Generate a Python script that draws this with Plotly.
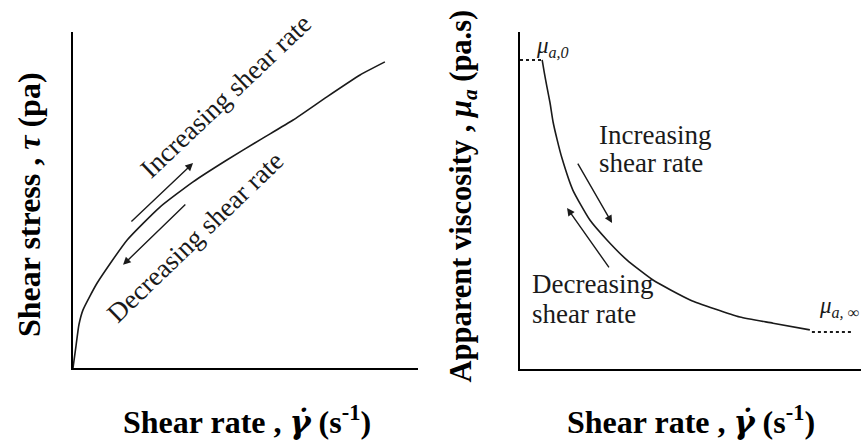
import plotly.graph_objects as go

# ---- data (arbitrary units) ----
# Left panel: shear stress vs shear rate
stress_rate = [0, 0.9, 1.7, 2.9, 7.0, 15.7, 25.2, 34.8, 44.6, 54.2, 63.8, 73.6, 83.2, 90.4]
stress_val = [0, 6.8, 12.8, 17.3, 25.3, 38.1, 47.9, 55.4, 61.9, 67.9, 73.8, 80.7, 87.2, 91.1]

# Right panel: apparent viscosity vs shear rate
visc_rate = [6.5, 7.1, 7.9, 8.8, 9.7, 10.9, 12.3, 15.5, 20.5, 25.5, 31.4, 39.0, 49.9, 64.5, 74.2, 85.0]
visc_val = [91.7, 88.1, 83.7, 79.0, 73.3, 68.0, 62.6, 53.1, 44.2, 38.3, 32.3, 26.4, 20.5, 15.4, 13.6, 11.6]

# plateau levels (dotted)
mu0_rate = [0, 6.5]
mu0_val = [91.7, 91.7]
muinf_rate = [85.6, 97.7]
muinf_val = [11.0, 11.0]

FONT = "Liberation Serif"
INK = "#1a1a1a"

fig = go.Figure()
fig.add_trace(go.Scatter(x=stress_rate, y=stress_val, mode="lines",
                         line=dict(color=INK, width=1.6, shape="spline", smoothing=0.5),
                         xaxis="x", yaxis="y", showlegend=False, hoverinfo="skip"))
fig.add_trace(go.Scatter(x=visc_rate, y=visc_val, mode="lines",
                         line=dict(color=INK, width=1.6, shape="spline", smoothing=0.5),
                         xaxis="x2", yaxis="y2", showlegend=False, hoverinfo="skip"))
for xs, ys in [(mu0_rate, mu0_val), (muinf_rate, muinf_val)]:
    fig.add_trace(go.Scatter(x=xs, y=ys, mode="lines",
                             line=dict(color=INK, width=2, dash="dot"),
                             xaxis="x2", yaxis="y2", showlegend=False,
                             hoverinfo="skip"))

ax_common = dict(showline=True, linecolor="black", linewidth=2, showgrid=False,
                 zeroline=False, ticks="", showticklabels=False, mirror=False,
                 range=[0, 100], fixedrange=True)

fig.update_layout(
    width=861, height=444,
    margin=dict(l=0, r=0, t=0, b=0),
    paper_bgcolor="white", plot_bgcolor="white",
    showlegend=False,
    xaxis=dict(domain=[73 / 861, 418 / 861], anchor="y", **ax_common),
    yaxis=dict(domain=[(444 - 368) / 444, (444 - 32) / 444], anchor="x", **ax_common),
    xaxis2=dict(domain=[520 / 861, 1.0], anchor="y2", **ax_common),
    yaxis2=dict(domain=[(444 - 369) / 444, (444 - 32) / 444], anchor="x2", **ax_common),
)

ann = []
txt_font = dict(family=FONT, size=27, color=INK)

# left panel rotated labels
ann.append(dict(xref="x", yref="y", x=44.3, y=81.0, text="Increasing shear rate",
                textangle=-43.5, showarrow=False, font=txt_font,
                xanchor="center", yanchor="middle"))
ann.append(dict(xref="x", yref="y", x=35.4, y=39.0, text="Decreasing shear rate",
                textangle=-43.9, showarrow=False, font=txt_font,
                xanchor="center", yanchor="middle"))

# right panel labels
for x, y, t in [(22.6, 69.4, "Increasing"), (22.6, 61.0, "shear rate"),
                (2.9, 25.2, "Decreasing"), (2.9, 16.3, "shear rate")]:
    ann.append(dict(xref="x2", yref="y2", x=x, y=y, text=t, showarrow=False,
                    font=txt_font, xanchor="left", yanchor="middle"))

ann.append(dict(xref="x2", yref="y2", x=4.2, y=95.5,
                text="<i>μ<sub>a,0</sub></i>", showarrow=False,
                font=dict(family=FONT, size=23, color=INK),
                xanchor="left", yanchor="middle"))
ann.append(dict(xref="x2", yref="y2", x=87.1, y=18.4,
                text="<i>μ<sub>a, ∞</sub></i>", showarrow=False,
                font=dict(family=FONT, size=23, color=INK),
                xanchor="left", yanchor="middle"))

# arrows (head, tail)
arrows = [("x", "y", 34.8, 61.0, 16.5, 43.2),
          ("x", "y", 14.5, 30.7, 33.0, 49.1),
          ("x2", "y2", 27.0, 43.3, 16.7, 61.4),
          ("x2", "y2", 13.8, 47.8, 26.4, 29.7)]
for xr, yr, hx, hy, tx, ty in arrows:
    ann.append(dict(xref=xr, yref=yr, axref=xr, ayref=yr, x=hx, y=hy, ax=tx, ay=ty,
                    text="", showarrow=True, arrowhead=2, arrowsize=1.1,
                    arrowwidth=1.4, arrowcolor=INK))

# axis titles
title_font = dict(family=FONT, size=32, color="black")
gdot = "<span style='font-family:DejaVu Serif'><i>γ̇</i></span>"
xt = f"<b>Shear rate , {gdot} (s<sup>-1</sup>)</b>"
ann.append(dict(xref="paper", yref="paper", x=247 / 861, y=(444 - 420) / 444,
                text=xt, showarrow=False,
                font=title_font, xanchor="center", yanchor="middle"))
ann.append(dict(xref="paper", yref="paper", x=691 / 861, y=(444 - 420) / 444,
                text=xt, showarrow=False,
                font=title_font, xanchor="center", yanchor="middle"))
ann.append(dict(xref="paper", yref="paper", x=29 / 861, y=(444 - 205) / 444,
                text="<b>Shear stress , <i>τ</i> (pa)</b>", showarrow=False,
                textangle=-90, font=title_font, xanchor="center", yanchor="middle"))
ann.append(dict(xref="paper", yref="paper", x=462 / 861, y=(444 - 196.5) / 444,
                text="<b>Apparent viscosity , <i>μ<sub>a</sub></i> (pa.s)</b>",
                showarrow=False, textangle=-90,
                font=dict(family=FONT, size=30.5, color="black"),
                xanchor="center", yanchor="middle"))

fig.update_layout(annotations=ann)
fig.write_html("out.html", config={"displayModeBar": False, "staticPlot": True},
               post_script="document.body.style.margin='0';")
